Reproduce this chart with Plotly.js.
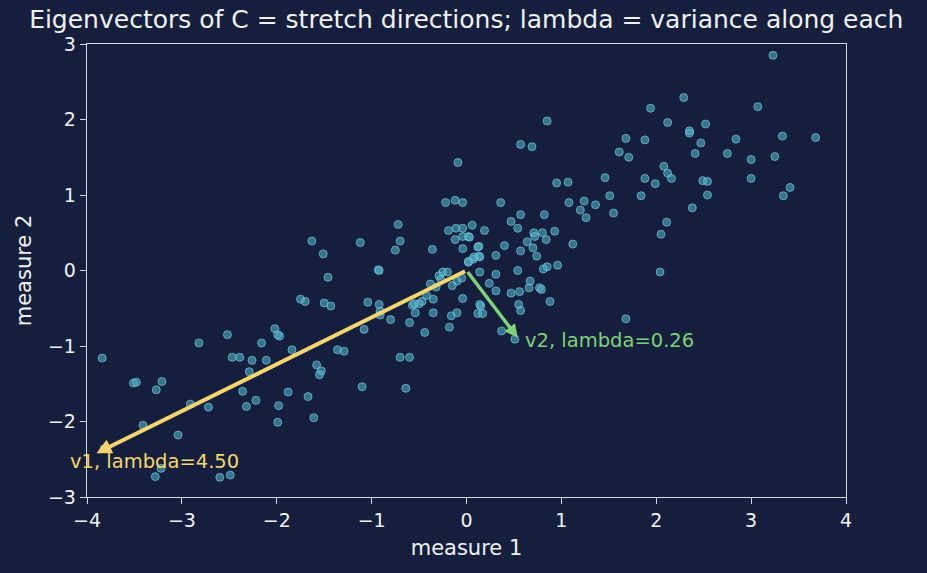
<!DOCTYPE html>
<html><head><meta charset="utf-8">
<script src="https://cdn.plot.ly/plotly-3.0.1.min.js"></script>
<style>body{margin:0;background:#151f3d}#c{width:927px;height:573px}</style>
</head><body><div id="c"></div>
<script>
const m1 = [3.23,2.29,3.07,1.94,0.85,2.12,2.52,2.35,2.35,3.68,3.33,1.68,2.84,1.88,2.47,0.57,0.69,1.61,2.41,2.75,1.71,3.25,3.00,-0.09,2.08,2.12,1.46,1.88,3.00,2.16,2.49,2.54,0.95,1.07,1.99,3.41,2.54,3.34,1.84,1.51,1.24,1.08,0.36,-0.22,-0.12,-0.04,1.36,2.38,1.20,1.55,0.57,0.82,1.26,0.47,2.11,-0.72,0.06,0.54,-0.11,-0.04,0.19,-0.19,0.93,0.71,0.80,2.05,0.02,-0.04,0.84,-0.12,0.72,-1.63,-1.12,-0.70,0.64,1.12,0.40,0.13,0.70,-0.36,-0.75,-0.04,0.57,-1.51,0.31,0.74,0.13,0.07,0.02,0.96,0.85,0.81,-0.93,-0.92,0.54,0.14,0.31,2.04,-0.25,-0.20,-0.29,-1.46,-0.10,0.24,0.67,-0.38,0.66,0.77,0.79,0.31,0.56,0.47,-1.75,-1.70,-1.50,-1.43,-0.04,-0.35,-1.04,0.88,-0.47,-0.50,-0.92,-0.57,-0.55,0.15,0.14,0.55,0.57,-0.91,-0.54,-0.35,-0.91,0.12,0.17,-0.16,-0.10,-0.80,1.68,-0.60,-0.18,-1.08,-0.44,0.37,-2.52,0.51,-2.02,-1.99,-1.97,-2.82,-2.16,-3.84,-1.84,-1.36,-1.29,-2.47,-2.39,-2.26,-2.11,-0.70,-0.60,-1.58,-2.29,-1.53,-1.55,-3.51,-3.48,-3.21,-1.10,-0.64,-3.27,-2.36,-1.88,-1.67,-2.22,-2.91,-2.72,-2.32,-1.98,-1.61,-1.99,-3.41,-3.04,-3.82,-3.22,-3.28,-2.60,-2.49,0.03,0.12,0.02,0.14,0.08,-0.05,-0.15,-0.32,-0.42,-0.27];
const m2 = [2.85,2.29,2.17,2.15,1.98,1.96,1.94,1.85,1.82,1.76,1.78,1.75,1.74,1.73,1.69,1.67,1.64,1.57,1.55,1.55,1.50,1.51,1.47,1.43,1.38,1.29,1.23,1.22,1.22,1.22,1.19,1.18,1.16,1.17,1.15,1.10,1.00,0.99,0.99,0.99,0.92,0.90,0.90,0.90,0.93,0.90,0.87,0.83,0.80,0.76,0.74,0.74,0.70,0.65,0.64,0.61,0.60,0.56,0.56,0.56,0.53,0.53,0.52,0.50,0.50,0.48,0.45,0.45,0.41,0.41,0.45,0.39,0.37,0.39,0.38,0.35,0.33,0.32,0.30,0.28,0.27,0.29,0.26,0.22,0.20,0.19,0.19,0.15,0.12,0.07,0.05,0.02,0.01,0.00,0.00,-0.02,-0.05,-0.02,-0.02,-0.02,-0.07,-0.09,-0.14,-0.17,-0.14,-0.18,-0.23,-0.23,-0.25,-0.27,-0.28,-0.30,-0.38,-0.41,-0.43,-0.47,-0.37,-0.38,-0.42,-0.41,-0.41,-0.44,-0.45,-0.46,-0.44,-0.47,-0.45,-0.45,-0.53,-0.54,-0.56,-0.56,-0.59,-0.57,-0.57,-0.60,-0.56,-0.65,-0.64,-0.69,-0.75,-0.78,-0.82,-0.80,-0.85,-0.91,-0.77,-0.85,-0.87,-0.96,-0.96,-1.16,-1.05,-1.05,-1.07,-1.15,-1.15,-1.19,-1.19,-1.15,-1.15,-1.25,-1.34,-1.33,-1.38,-1.49,-1.48,-1.47,-1.54,-1.56,-1.58,-1.60,-1.61,-1.67,-1.72,-1.77,-1.81,-1.80,-1.79,-1.95,-2.01,-2.05,-2.18,-2.36,-2.62,-2.73,-2.74,-2.71,0.44,0.31,0.11,0.18,0.18,-0.10,-0.20,-0.22,-0.33,-0.12];
const vecNames = ["v1, lambda=4.50", "v2, lambda=0.26"];
const vecX = [-3.90, 0.54];
const vecY = [-2.42, -0.89];
const vecColors = ["#f3d66e", "#7fd17a"];
const labelX = [-3.98, 0.60];
const labelY = [-2.53, -0.93];
const labelShift = [-21, 0];

const fontFam = "DejaVu Sans, sans-serif";
const txt = "#f0f2f6";
const annotations = [];
vecNames.forEach((n,i)=>{
  annotations.push({x:vecX[i], y:vecY[i], ax:0, ay:0, xref:'x', yref:'y', axref:'x', ayref:'y',
    showarrow:true, arrowhead:2, arrowsize:0.75, arrowwidth:i===0?4:3.5, arrowcolor:vecColors[i], text:''});
  annotations.push({x:labelX[i], y:labelY[i], xref:'x', yref:'y', text:n, showarrow:false, xshift:labelShift[i],
    xanchor:'left', yanchor:'middle', font:{family:fontFam, size:19.5, color:vecColors[i]}});
});

Plotly.newPlot('c', [{
  x:m1, y:m2, type:'scatter', mode:'markers',
  marker:{size:8, color:'rgba(79,178,200,0.58)', line:{color:'rgba(115,200,215,0.7)', width:1}},
  showlegend:false, hoverinfo:'skip'
}], {
  width:927, height:573,
  paper_bgcolor:'#151f3d', plot_bgcolor:'#151f3d',
  margin:{l:87, r:81, t:44, b:76},
  font:{family:fontFam, color:txt, size:19},
  title:{text:'Eigenvectors of C = stretch directions; lambda = variance along each', x:0.503, xanchor:'center', y:0.967, yanchor:'middle', font:{size:25, color:txt, family:fontFam}},
  xaxis:{range:[-4,4], tickvals:[-4,-3,-2,-1,0,1,2,3,4], ticktext:['\u22124','\u22123','\u22122','\u22121','0','1','2','3','4'],
    showgrid:false, zeroline:false, showline:true, mirror:true, linecolor:'#d4d9e2', linewidth:1.3,
    ticks:'outside', ticklen:6, tickcolor:'#d4d9e2', tickfont:{size:19, color:txt},
    title:{text:'measure 1', font:{size:21, color:txt}, standoff:10}},
  yaxis:{range:[-3,3], tickvals:[-3,-2,-1,0,1,2,3], ticktext:['\u22123','\u22122','\u22121','0','1','2','3'],
    showgrid:false, zeroline:false, showline:true, mirror:true, linecolor:'#d4d9e2', linewidth:1.3,
    ticks:'outside', ticklen:6, tickcolor:'#d4d9e2', tickfont:{size:19, color:txt},
    title:{text:'measure 2', font:{size:21, color:txt}, standoff:10}},
  annotations:annotations
}, {displayModeBar:false, staticPlot:true});
</script></body></html>
